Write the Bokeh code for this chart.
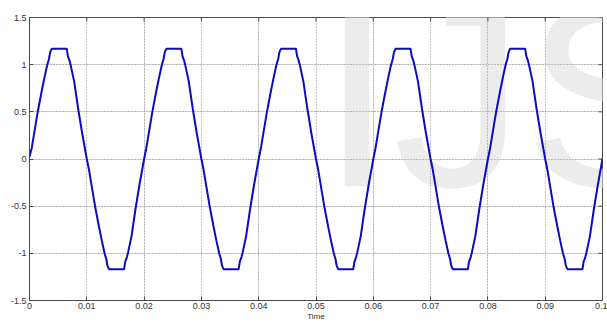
import math
from bokeh.plotting import figure
from bokeh.models import LinearAxis, Range1d, FixedTicker, Label, CustomJSTickFormatter, Grid
from bokeh.embed import file_html
from bokeh.resources import INLINE

# Waveform vertices (time in s, output in p.u.)
time = [
    0.0000, 0.0004, 0.0010, 0.0015, 0.0021, 0.0026, 0.0031, 0.0034, 0.0036, 0.0039, 0.0065, 0.0067, 0.0070, 0.0072, 0.0078, 0.0085, 0.0092,
    0.0100, 0.0104, 0.0110, 0.0115, 0.0121, 0.0126, 0.0131, 0.0134, 0.0136, 0.0139, 0.0165, 0.0167, 0.0170, 0.0172, 0.0178, 0.0185, 0.0192,
    0.0200, 0.0204, 0.0210, 0.0215, 0.0221, 0.0226, 0.0231, 0.0234, 0.0236, 0.0239, 0.0265, 0.0267, 0.0270, 0.0272, 0.0278, 0.0285, 0.0292,
    0.0300, 0.0304, 0.0310, 0.0315, 0.0321, 0.0326, 0.0331, 0.0334, 0.0336, 0.0339, 0.0365, 0.0367, 0.0370, 0.0372, 0.0378, 0.0385, 0.0392,
    0.0400, 0.0404, 0.0410, 0.0415, 0.0421, 0.0426, 0.0431, 0.0434, 0.0436, 0.0439, 0.0465, 0.0467, 0.0470, 0.0472, 0.0478, 0.0485, 0.0492,
    0.0500, 0.0504, 0.0510, 0.0515, 0.0521, 0.0526, 0.0531, 0.0534, 0.0536, 0.0539, 0.0565, 0.0567, 0.0570, 0.0572, 0.0578, 0.0585, 0.0592,
    0.0600, 0.0604, 0.0610, 0.0615, 0.0621, 0.0626, 0.0631, 0.0634, 0.0636, 0.0639, 0.0665, 0.0667, 0.0670, 0.0672, 0.0678, 0.0685, 0.0692,
    0.0700, 0.0704, 0.0710, 0.0715, 0.0721, 0.0726, 0.0731, 0.0734, 0.0736, 0.0739, 0.0765, 0.0767, 0.0770, 0.0772, 0.0778, 0.0785, 0.0792,
    0.0800, 0.0804, 0.0810, 0.0815, 0.0821, 0.0826, 0.0831, 0.0834, 0.0836, 0.0839, 0.0865, 0.0867, 0.0870, 0.0872, 0.0878, 0.0885, 0.0892,
    0.0900, 0.0904, 0.0910, 0.0915, 0.0921, 0.0926, 0.0931, 0.0934, 0.0936, 0.0939, 0.0965, 0.0967, 0.0970, 0.0972, 0.0978, 0.0985, 0.0992,
    0.1000,
]
voltage = [
    0.02, 0.12, 0.34, 0.52, 0.71, 0.86, 1.00, 1.06, 1.13, 1.17, 1.17, 1.09, 1.04, 0.99, 0.82, 0.53, 0.27,
    0.00, -0.12, -0.34, -0.52, -0.71, -0.86, -1.00, -1.06, -1.13, -1.17, -1.17, -1.09, -1.04, -0.99, -0.82, -0.53, -0.27,
    0.00, 0.12, 0.34, 0.52, 0.71, 0.86, 1.00, 1.06, 1.13, 1.17, 1.17, 1.09, 1.04, 0.99, 0.82, 0.53, 0.27,
    0.00, -0.12, -0.34, -0.52, -0.71, -0.86, -1.00, -1.06, -1.13, -1.17, -1.17, -1.09, -1.04, -0.99, -0.82, -0.53, -0.27,
    0.00, 0.12, 0.34, 0.52, 0.71, 0.86, 1.00, 1.06, 1.13, 1.17, 1.17, 1.09, 1.04, 0.99, 0.82, 0.53, 0.27,
    0.00, -0.12, -0.34, -0.52, -0.71, -0.86, -1.00, -1.06, -1.13, -1.17, -1.17, -1.09, -1.04, -0.99, -0.82, -0.53, -0.27,
    0.00, 0.12, 0.34, 0.52, 0.71, 0.86, 1.00, 1.06, 1.13, 1.17, 1.17, 1.09, 1.04, 0.99, 0.82, 0.53, 0.27,
    0.00, -0.12, -0.34, -0.52, -0.71, -0.86, -1.00, -1.06, -1.13, -1.17, -1.17, -1.09, -1.04, -0.99, -0.82, -0.53, -0.27,
    0.00, 0.12, 0.34, 0.52, 0.71, 0.86, 1.00, 1.06, 1.13, 1.17, 1.17, 1.09, 1.04, 0.99, 0.82, 0.53, 0.27,
    0.00, -0.12, -0.34, -0.52, -0.71, -0.86, -1.00, -1.06, -1.13, -1.17, -1.17, -1.09, -1.04, -0.99, -0.82, -0.53, -0.27,
    0.00,
]

x_ticks = [0, 0.01, 0.02, 0.03, 0.04, 0.05, 0.06, 0.07, 0.08, 0.09, 0.1]
x_labels = ["0", "0.01", "0.02", "0.03", "0.04", "0.05", "0.06", "0.07", "0.08", "0.09", "0.1"]
y_ticks = [-1.5, -1, -0.5, 0, 0.5, 1, 1.5]
y_labels = ["-1.5", "-1", "-0.5", "0", "0.5", "1", "1.5"]
x_label = "Time"
watermark = "IJS"

FONT = "'Liberation Sans Narrow', 'Liberation Sans', sans-serif"
AXIS_COLOR = "#4a4a4a"
X0, X1, Y0, Y1 = 0, 0.1, -1.5, 1.5

p = figure(width=607, height=323, output_backend="svg", toolbar_location=None,
           x_range=Range1d(X0, X1), y_range=Range1d(Y0, Y1),
           x_axis_location=None, y_axis_location=None,
           min_border_left=29, min_border_right=5, min_border_top=17, min_border_bottom=23)
p.background_fill_color = "white"
p.border_fill_color = "white"
p.outline_line_color = AXIS_COLOR
p.outline_line_width = 1

# watermark behind everything
wm = Label(x=0.0508, y=-0.88, text=watermark, text_font="Liberation Sans",
           text_font_size="262px", text_color="#ececec", text_baseline="bottom",
           level="image")
p.add_layout(wm)


def make_axis(ticks, labels):
    ax = LinearAxis(ticker=FixedTicker(ticks=ticks))
    mapping = {str(float(t)): l for t, l in zip(ticks, labels)}
    ax.formatter = CustomJSTickFormatter(args=dict(m=mapping), code="""
        const k = Number(tick).toFixed(10);
        for (const key in m) { if (Number(key).toFixed(10) === k) return m[key]; }
        return String(tick);
    """)
    ax.axis_line_color = AXIS_COLOR
    ax.major_tick_line_color = AXIS_COLOR
    ax.major_tick_in = 4
    ax.major_tick_out = 0
    ax.minor_tick_line_color = None
    ax.major_label_text_font = FONT
    ax.major_label_text_font_size = "9px"
    ax.major_label_text_color = "#333333"
    ax.major_label_standoff = 3
    return ax


xaxis = make_axis(x_ticks, x_labels)
xaxis.axis_label = x_label
xaxis.axis_label_text_font = FONT
xaxis.axis_label_text_font_size = "8px"
xaxis.axis_label_text_font_style = "normal"
xaxis.axis_label_text_color = "#333333"
xaxis.axis_label_standoff = 0
xaxis.major_label_standoff = 2
p.add_layout(xaxis, "below")
p.add_layout(make_axis(y_ticks, y_labels), "left")

p.add_layout(Grid(dimension=0, ticker=FixedTicker(ticks=x_ticks), grid_line_color="#8c8c8c",
                  grid_line_dash="1 2", grid_line_width=1))
p.add_layout(Grid(dimension=1, ticker=FixedTicker(ticks=y_ticks), grid_line_color="#8c8c8c",
                  grid_line_dash="1 2", grid_line_width=1))

# mirrored inward ticks on top and right edges (half of each dash is clipped by the frame)
p.scatter(x_ticks, [Y1] * len(x_ticks), marker="dash", size=8, angle=math.pi / 2,
          line_color=AXIS_COLOR, line_width=1)
p.scatter([X1] * len(y_ticks), y_ticks, marker="dash", size=8,
          line_color=AXIS_COLOR, line_width=1)

p.line(time, voltage, line_color="#0a0ac8", line_width=2)

open("out.html", "w").write(file_html(p, INLINE))
